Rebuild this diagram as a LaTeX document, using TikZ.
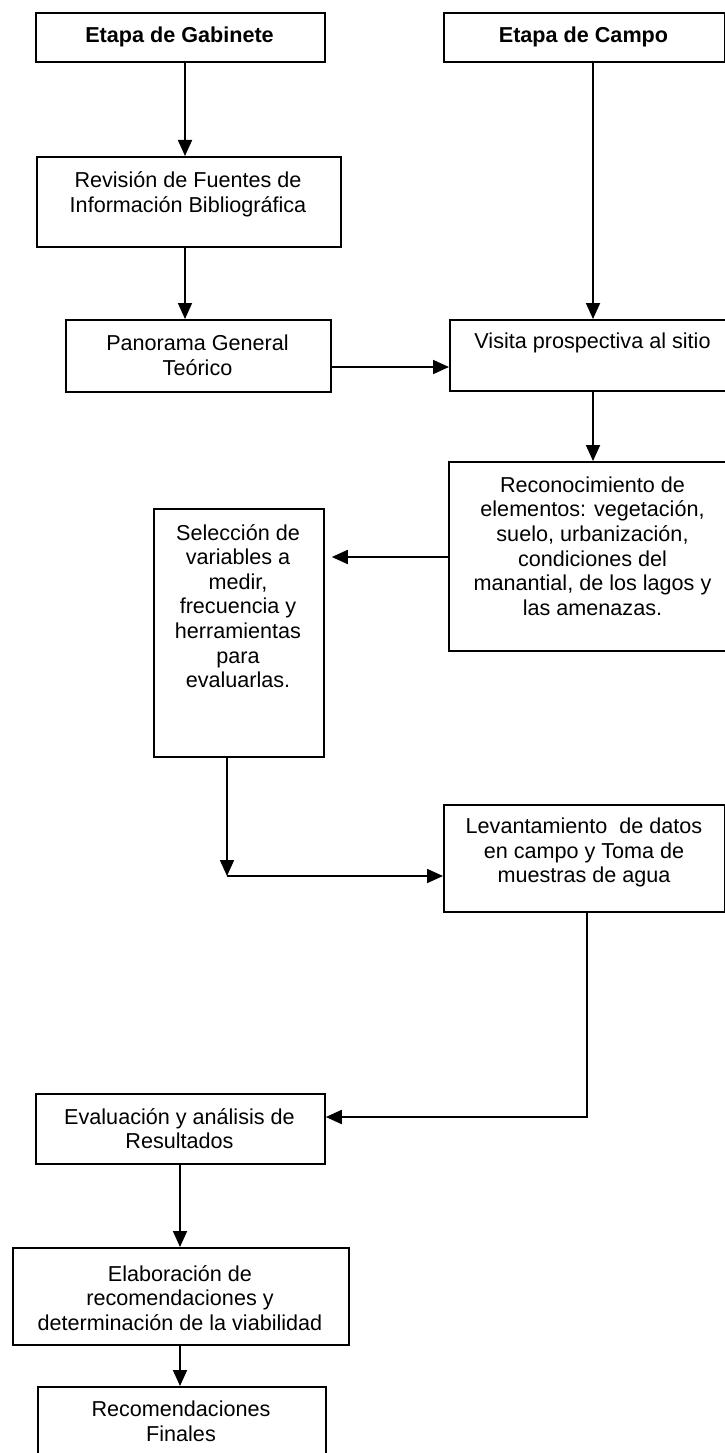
\documentclass[tikz,border=0pt]{standalone}
\usepackage{fontspec}
\setmainfont{Liberation Sans}
\usetikzlibrary{arrows.meta}
\begin{document}
\begin{tikzpicture}[x=1pt,y=-1pt,
  box/.style={draw, line width=1.8pt, inner sep=0pt, anchor=north west},
  txt/.style={align=center, inner sep=0pt, font=\fontsize{21.6}{24.6}\selectfont},
  btxt/.style={align=center, inner sep=0pt, font=\fontsize{21.6}{24.6}\selectfont\bfseries},
  arr/.style={line width=1.8pt, -{Triangle[length=16pt,width=14pt]}}]
\clip (0,0) rectangle (725,1453);
\fill[white] (0,0) rectangle (725,1453);

% boxes
\node[box, minimum width=289pt, minimum height=49pt] (gab) at (35,12) {};
\node[box, minimum width=281pt, minimum height=49pt] (campo) at (443,12) {};
\node[box, minimum width=304pt, minimum height=90pt] (rev) at (36,156) {};
\node[box, minimum width=265pt, minimum height=72pt] (pan) at (65,319) {};
\node[box, minimum width=288pt, minimum height=71pt] (vis) at (449,319) {};
\node[box, minimum width=289pt, minimum height=189pt] (rec) at (448,461) {};
\node[box, minimum width=170pt, minimum height=248pt] (sel) at (153,508) {};
\node[box, minimum width=281pt, minimum height=107pt] (lev) at (443,804) {};
\node[box, minimum width=289pt, minimum height=70pt] (eva) at (35,1093) {};
\node[box, minimum width=336pt, minimum height=97pt] (ela) at (12,1247) {};
\node[box, minimum width=288pt, minimum height=80pt] (recf) at (37,1386) {};

% texts
\node[btxt] (gabT) at (179.5,37) {Etapa de Gabinete};
\node[btxt] (campoT) at (583.5,37) {Etapa de Campo};
\node[txt] (revT) at (188,194.5) {Revisión de Fuentes de\\Información Bibliográfica};
\node[txt] (panT) at (197.5,355) {Panorama General\\Teórico};
\node[txt] (visT) at (592.5,343) {Visita prospectiva al sitio};
\node[txt] (recT) at (592.5,546) {Reconocimiento de\\elementos: vegetación,\\suelo, urbanización,\\condiciones del\\manantial, de los lagos y\\las amenazas.};
\node[txt] (selT) at (238,606) {Selección de\\variables a\\medir,\\frecuencia y\\herramientas\\para\\evaluarlas.};
\node[txt] (levT) at (584,852.5) {Levantamiento\ \ de datos\\en campo y Toma de\\muestras de agua};
\node[txt] (evaT) at (179.5,1128.5) {Evaluación y análisis de\\Resultados};
\node[txt] (elaT) at (180,1298) {Elaboración de\\recomendaciones y\\determinación de la viabilidad};
\node[txt] (recfT) at (181,1421.5) {Recomendaciones\\Finales};

% connectors
\coordinate (xa) at (185,0);
\coordinate (xb) at (593,0);
\coordinate (xc) at (180,0);
\coordinate (ya) at (0,367);
\coordinate (yb) at (0,557);
\coordinate (c1) at (227,876);
\coordinate (c2) at (587,1117);

\draw[arr] (gab.south -| xa) -- (rev.north -| xa);
\draw[arr] (rev.south -| xa) -- (pan.north -| xa);
\draw[arr] (campo.south -| xb) -- (vis.north -| xb);
\draw[arr] (pan.east |- ya) -- (vis.west |- ya);
\draw[arr] (vis.south -| xb) -- (rec.north -| xb);
\draw[arr, shorten >=7pt] (rec.west |- yb) -- (sel.east |- yb);
\draw[arr] (sel.south -| c1) -- (c1);
\draw[arr] (c1) -- (lev.west |- c1);
\draw[arr] (lev.south -| c2) -- (c2) -- (eva.east |- c2);
\draw[arr] (eva.south -| xc) -- (ela.north -| xc);
\draw[arr] (ela.south -| xc) -- (recf.north -| xc);
\end{tikzpicture}
\end{document}
